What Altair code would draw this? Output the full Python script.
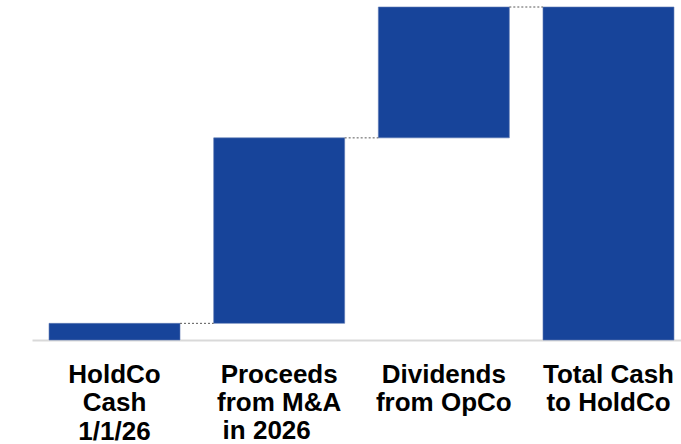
import altair as alt
import pandas as pd

categories = ["HoldCo|Cash|1/1/26", "Proceeds|from M&A",
              "Dividends|from OpCo", "Total Cash|to HoldCo"]
extra_line_cat = ["Proceeds|from M&A"]
extra_line_text = ["in 2026"]
steps = [50, 557, 393]  # increments; last bar is total

rows = []
cum = 0
for c, v in zip(categories[:3], steps):
    rows.append({"cat": c, "start": cum, "end": cum + v})
    cum += v
rows.append({"cat": categories[3], "start": 0, "end": cum})
df = pd.DataFrame(rows)

conn = pd.DataFrame([
    {"from": categories[i], "to": categories[i + 1], "y": rows[i]["end"]}
    for i in range(3)
])
extra = pd.DataFrame({"cat": extra_line_cat, "txt": extra_line_text})

xscale = alt.Scale(domain=categories, paddingInner=0.2045, paddingOuter=0.073, align=0.708)
yscale = alt.Scale(domain=[0, 1000], nice=False, zero=True)

FONT = "Liberation Sans"

bars = alt.Chart(df).mark_bar(color="#17449A", stroke="#5e78b3", strokeWidth=0.6).encode(
    x=alt.X("cat:N", scale=xscale, sort=categories,
            axis=alt.Axis(title=None, labelAngle=0, ticks=False, domainColor="#d9d9d9",
                          domainWidth=2, labelFont=FONT, labelFontWeight="bold",
                          labelFontSize=26, labelColor="#000000", labelPadding=42,
                          labelBaseline="alphabetic", labelLineHeight=28.5,
                          labelExpr="split(datum.label, '|')", labelLimit=0)),
    y=alt.Y("start:Q", scale=yscale, axis=None),
    y2="end:Q",
)

rules = alt.Chart(conn).mark_rule(color="#595959", strokeWidth=1, strokeDash=[2, 2]).encode(
    x=alt.X("from:N", scale=xscale, sort=categories, bandPosition=1),
    x2=alt.X2("to:N", bandPosition=0),
    y=alt.Y("y:Q", scale=yscale),
)

extra_text = alt.Chart(extra).mark_text(
    font=FONT, fontWeight="bold", fontSize=26, color="#000000",
    baseline="alphabetic", align="center", dx=-12.5,
).encode(
    x=alt.X("cat:N", scale=xscale, sort=categories),
    y=alt.value(432),
    text="txt:N",
)

chart = alt.layer(bars, rules, extra_text).properties(
    width=649, height=333,
    autosize=alt.AutoSizeParams(type="none"),
    padding={"left": 32, "top": 7, "right": 0, "bottom": 104},
).configure_view(stroke=None)

chart.save("out.html", embed_options={"renderer": "svg", "actions": False})
